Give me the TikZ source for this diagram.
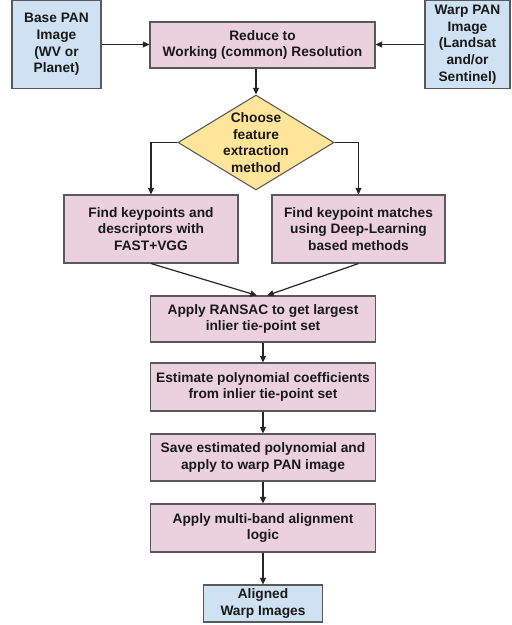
\documentclass[tikz,border=0pt]{standalone}
\usepackage{fontspec}
\setmainfont{Liberation Sans}
\usetikzlibrary{arrows.meta,positioning,shapes.geometric}
\definecolor{stepfill}{HTML}{EAD1DC}
\definecolor{datafill}{HTML}{CFE2F3}
\definecolor{choicefill}{HTML}{FFE599}
\newcommand{\boxfont}{\bfseries\fontsize{10.3}{12.5}\selectfont}

\begin{document}
\begin{tikzpicture}[
  x=0.75pt, y=-0.75pt,
  box/.style={draw=black!65, line width=0.8pt, align=center, inner sep=1pt,
    text=black!90, font=\boxfont},
  proc/.style={box, fill=stepfill, minimum width=168.75pt},
  data/.style={box, fill=datafill},
  decision/.style={diamond, draw=black!65, line width=0.8pt, fill=choicefill,
    inner sep=0pt, minimum width=117pt, minimum height=71.25pt},
  flow/.style={-{Triangle[length=5pt,width=4.5pt]}, line width=0.9pt, black!85}]

\useasboundingbox (0,0) rectangle (511,625);

% ---- inputs and the common resolution -----------------------------------
\node[data, minimum width=66.75pt, minimum height=65.5pt] (base) at (56.5,44.5)
  {Base PAN\\Image\\(WV or\\Planet)};
\node[data, minimum width=63.75pt, minimum height=65.5pt] (warp) at (467.5,44.5)
  {Warp PAN\\Image\\(Landsat\\and/or\\Sentinel)};
\node[proc, minimum height=34.5pt] (reduce) at (262.5,45)
  {Reduce to\\Working (common) Resolution};

% ---- the choice of matcher ----------------------------------------------
\node[decision] (choose) at (256,142.5) {};
\node[align=center, text=black!90, font=\boxfont] (choosetext) at (choose)
  {Choose\\feature\\extraction\\method};
\node[proc, minimum width=130.5pt, minimum height=51pt] (fastvgg) at (151,229)
  {Find keypoints and\\descriptors with\\FAST+VGG};
\node[proc, minimum width=129.75pt, minimum height=51pt] (deepmatch) at (358.5,229)
  {Find keypoint matches\\using Deep-Learning\\based methods};

% ---- fitting and applying the warp --------------------------------------
\node[proc, minimum height=34.5pt] (ransac) at (263,319)
  {Apply RANSAC to get largest\\inlier tie-point set};
\node[proc, minimum height=36pt] (estimate) at (263,387)
  {Estimate polynomial coefficients\\from inlier tie-point set};
\node[proc, minimum height=35.25pt] (save) at (263,457.5)
  {Save estimated polynomial and\\apply to warp PAN image};
\node[proc, minimum height=36pt] (multiband) at (263,528)
  {Apply multi-band alignment\\logic};
\node[data, minimum width=89.25pt, minimum height=27.75pt] (aligned) at (263,603.5)
  {Aligned\\Warp Images};

% ---- connectors ---------------------------------------------------------
\draw[flow] (base.east) -- (base.east -| reduce.west);
\draw[flow] (warp.west) -- (warp.west -| reduce.east);
\draw[flow] (choose.north |- reduce.south) -- (choose.north);
\draw[flow] (choose.west) -| (fastvgg.north);
\draw[flow] (choose.east) -| (deepmatch.north);
\draw[flow] (fastvgg.south) -- ([xshift=-4.5pt]ransac.north);
\draw[flow] (deepmatch.south) -- ([xshift=3pt]ransac.north);
\draw[flow] (ransac.south) -- (estimate.north);
\draw[flow] (estimate.south) -- (save.north);
\draw[flow] (save.south) -- (multiband.north);
\draw[flow] (multiband.south) -- (aligned.north);

\end{tikzpicture}
\end{document}
